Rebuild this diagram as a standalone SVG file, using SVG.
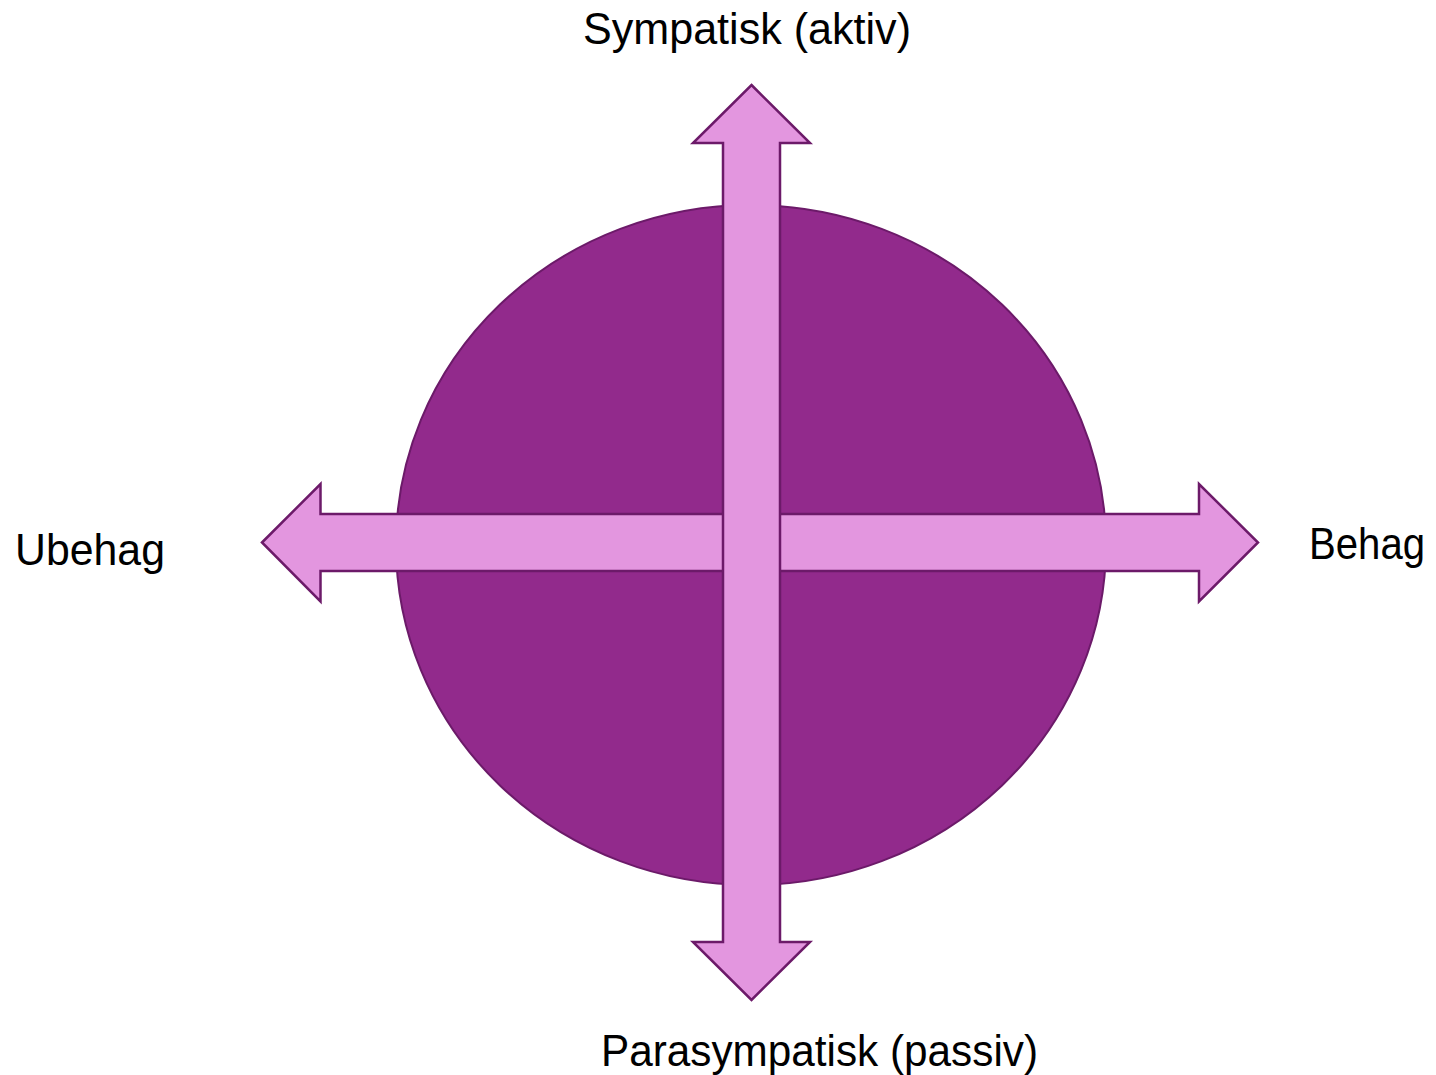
<svg xmlns="http://www.w3.org/2000/svg" width="1436" height="1075" viewBox="0 0 1436 1075">
<style>
.circle{fill:#922A8C;stroke:#6C1A69;stroke-width:2}
.arrow{fill:#E396DF;stroke:#6C1A69;stroke-width:2.5;stroke-linejoin:miter}
.label{font-family:"Liberation Sans",Arial,sans-serif;font-size:44px;fill:#000}
</style>
<rect width="1436" height="1075" fill="#fff"/>
<g id="circle">
<ellipse class="circle" cx="751" cy="545" rx="355" ry="340"/>
</g>
<g id="connectors">
<polygon id="arrow-horizontal" class="arrow" points="262,542.5 320.5,484 320.5,514 1199,514 1199,484 1258,542.5 1199,601.5 1199,571 320.5,571 320.5,601.5"/>
<polygon id="arrow-vertical" class="arrow" points="751.5,85 810,143 780,143 780,942 810,942 751.5,1000 693,942 723,942 723,143 693,143"/>
</g>
<g id="label-top"><text class="label" x="583" y="44" textLength="328" lengthAdjust="spacingAndGlyphs">Sympatisk (aktiv)</text></g>
<g id="label-bottom"><text class="label" x="601" y="1066" textLength="437" lengthAdjust="spacingAndGlyphs">Parasympatisk (passiv)</text></g>
<g id="label-left"><text class="label" x="15" y="565" textLength="150" lengthAdjust="spacingAndGlyphs">Ubehag</text></g>
<g id="label-right"><text class="label" x="1309" y="559" textLength="116" lengthAdjust="spacingAndGlyphs">Behag</text></g>
</svg>
